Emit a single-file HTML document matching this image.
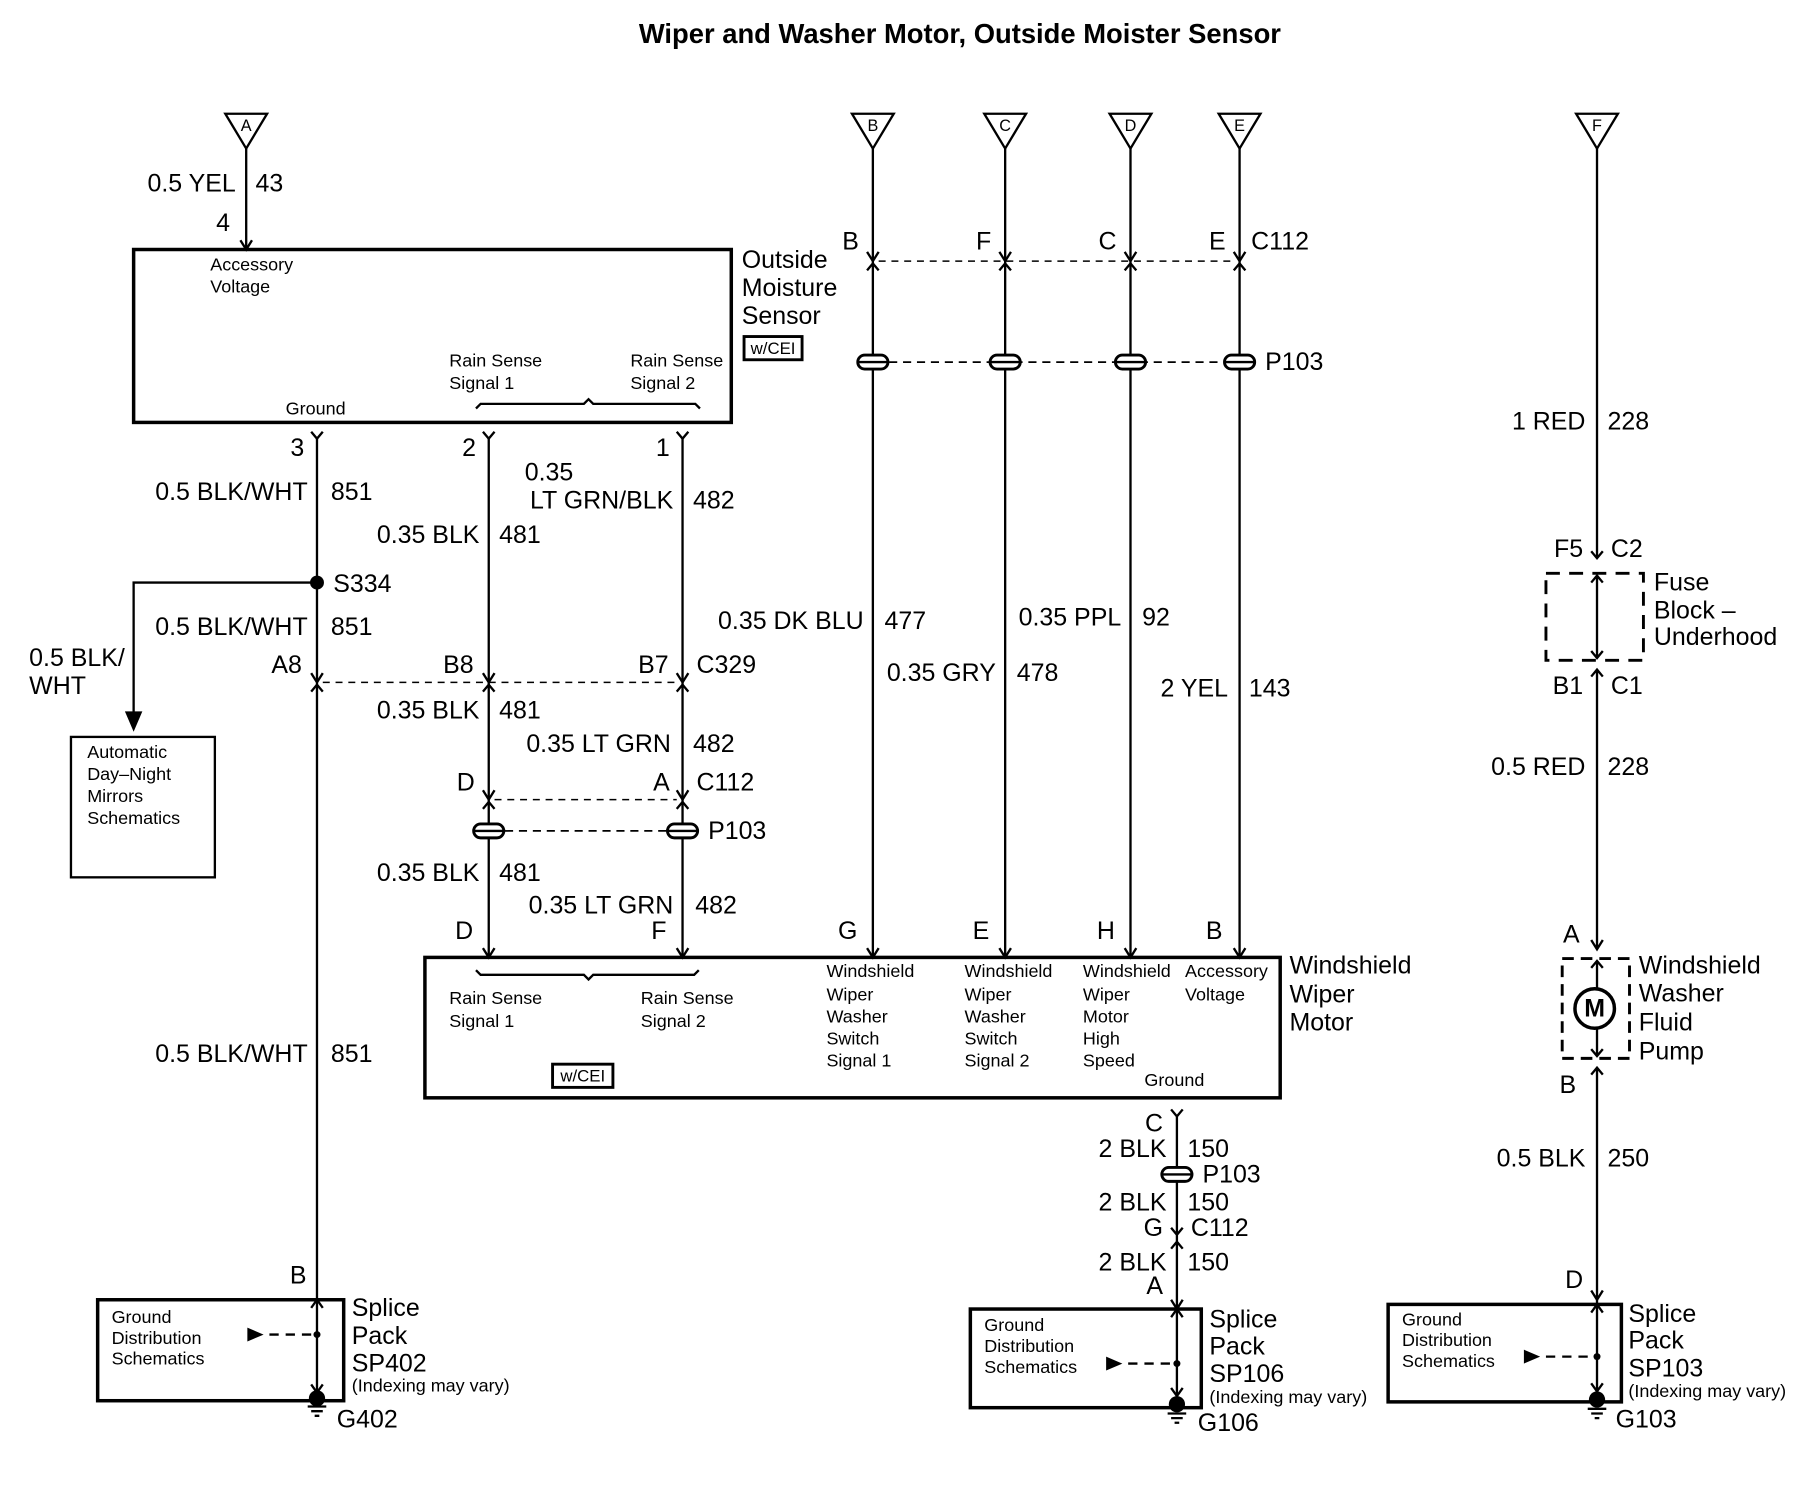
<!DOCTYPE html>
<html><head><meta charset="utf-8"><style>
html,body{margin:0;padding:0;background:#fff}
svg{display:block}
text{font-family:"Liberation Sans",sans-serif;fill:#000}
.l{font-size:21.5px}
.s{font-size:15.5px}
</style></head><body>
<svg width="1820" height="1504" viewBox="0 0 1568 1296" xmlns="http://www.w3.org/2000/svg">
<g stroke="#000" fill="none" stroke-width="2">
<path d="M194,98 L230,98 L212,128 Z M734,98 L770,98 L752,128 Z M848,98 L884,98 L866,128 Z M956,98 L992,98 L974,128 Z M1050,98 L1086,98 L1068,128 Z M1358,98 L1394,98 L1376,128 Z"/>
<path d="M212,128 V215 M207,207 L212,215 L217,207"/>
<rect x="115" y="215" width="515" height="149" stroke-width="3"/>
<rect x="641" y="290" width="50" height="20" stroke-width="2.5"/>
<path d="M410,352 L414,348 H503 L507,344 L511,348 H599 L603,352"/>
<path d="M268,372 L273,378 L278,372 M416,372 L421,378 L426,372 M583,372 L588,378 L593,372"/>
<path d="M273,378 V1200 M421,378 V825 M588,378 V825"/>
<path d="M273,502 H115 V624"/>
<path d="M109,614 L115,628 L121,614 Z" fill="#000"/>
<rect x="61" y="635" width="124" height="121"/>
<path d="M268,580 L273,588 L278,580 M268,596 L273,590 L278,596 M416,580 L421,588 L426,580 M416,596 L421,590 L426,596 M583,580 L588,588 L593,580 M583,596 L588,590 L593,596"/>
<path d="M278,588 H583" stroke-dasharray="6,5" stroke-width="1.3"/>
<path d="M416,681 L421,689 L426,681 M416,697 L421,691 L426,697 M583,681 L588,689 L593,681 M583,697 L588,691 L593,697"/>
<path d="M426,689 H583" stroke-dasharray="6,5" stroke-width="1.3"/>
<path d="M435,716 H575" stroke-dasharray="7,5" stroke-width="1.5"/>
<path d="M416,817 L421,825 L426,817 M583,817 L588,825 L593,817 M747,817 L752,825 L757,817 M861,817 L866,825 L871,817 M969,817 L974,825 L979,817 M1063,817 L1068,825 L1073,817"/>
<rect x="366" y="825" width="737" height="121" stroke-width="3"/>
<rect x="476" y="917" width="52" height="20" stroke-width="2.5"/>
<path d="M410,836 L414,840 H503 L507,844 L511,840 H598 L602,836"/>
<path d="M752,128 V825 M866,128 V825 M974,128 V825 M1068,128 V825"/>
<path d="M747,217 L752,225 L757,217 M747,233 L752,227 L757,233 M861,217 L866,225 L871,217 M861,233 L866,227 L871,233 M969,217 L974,225 L979,217 M969,233 L974,227 L979,233 M1063,217 L1068,225 L1073,217 M1063,233 L1068,227 L1073,233"/>
<path d="M757,225 H1063" stroke-dasharray="6,5" stroke-width="1.3"/>
<path d="M766,312 H1054" stroke-dasharray="7,5" stroke-width="1.5"/>
<path d="M1009,956 L1014,962 L1019,956 M1014,962 V1210 M1009,1058 L1014,1064 L1019,1058 M1009,1076 L1014,1070 L1019,1076 M1009,1120 L1014,1128 L1019,1120"/>
<path d="M1376,128 V481 M1371,475 L1376,481 L1381,475 M1376,496 V567 M1371,502 L1376,496 L1381,502 M1371,561 L1376,567 L1381,561 M1371,583 L1376,577 L1381,583 M1376,577 V818 M1371,810 L1376,818 L1381,810 M1371,834 L1376,828 L1381,834 M1376,828 V910 M1371,904 L1376,910 L1381,904 M1371,926 L1376,920 L1381,926 M1376,920 V1120 M1371,1112 L1376,1120 L1381,1112"/>
<rect x="1332" y="494" width="84" height="75" stroke-dasharray="12,8" stroke-width="2.5"/>
<rect x="1346" y="826" width="58" height="86" stroke-dasharray="10,6" stroke-width="2.5"/>
<circle cx="1374" cy="869" r="17" stroke-width="3" fill="#fff"/>
<rect x="84" y="1120" width="212" height="87" stroke-width="3"/>
<rect x="836" y="1128" width="199" height="85" stroke-width="3"/>
<rect x="1196" y="1124" width="201" height="84" stroke-width="3"/>
<path d="M268,1127 L273,1120 L278,1127 M268,1193 L273,1200 L278,1193 M1009,1135 L1014,1128 L1019,1135 M1009,1196 L1014,1203 L1019,1196 M1376,1120 V1206 M1371,1131 L1376,1124 L1381,1131 M1371,1192 L1376,1199 L1381,1192"/>
<path d="M232,1150 H270 M972,1175 H1011 M1332,1169 H1373" stroke-dasharray="8,6"/>
<path d="M265,1212 H281 M268,1216 H278 M271,1220 H275 M1006,1218 H1022 M1009,1222 H1019 M1012,1226 H1016 M1368,1214 H1384 M1371,1218 H1381 M1374,1222 H1378"/>
</g>
<g fill="#000" stroke="none">
<circle cx="273" cy="502" r="6"/>
<path d="M213,1144 L227,1150 L213,1156 Z M953,1169 L967,1175 L953,1181 Z M1313,1163 L1327,1169 L1313,1175 Z"/>
<circle cx="273" cy="1150" r="3"/><circle cx="1014" cy="1175" r="3"/><circle cx="1376" cy="1169" r="3"/>
<circle cx="273" cy="1205" r="7"/><circle cx="1014" cy="1210" r="7"/><circle cx="1376" cy="1206" r="7"/>
</g>
<g stroke="#000" stroke-width="2.5" fill="#fff">
<rect x="739" y="306" width="26" height="12" rx="6"/><rect x="853" y="306" width="26" height="12" rx="6"/><rect x="961" y="306" width="26" height="12" rx="6"/><rect x="1055" y="306" width="26" height="12" rx="6"/>
<rect x="408" y="710" width="26" height="12" rx="6"/><rect x="575" y="710" width="26" height="12" rx="6"/>
<rect x="1001" y="1006" width="26" height="12" rx="6"/>
</g>
<g stroke="#000" stroke-width="2">
<path d="M739,312 H765 M853,312 H879 M961,312 H987 M1055,312 H1081 M408,716 H434 M575,716 H601 M1001,1012 H1027"/>
</g>
<text x="827" y="37" text-anchor="middle" style="font-size:23.6px;font-weight:bold">Wiper and Washer Motor, Outside Moister Sensor</text>
<g text-anchor="middle" style="font-size:14px">
<text x="212" y="113">A</text><text x="752" y="113">B</text><text x="866" y="113">C</text><text x="974" y="113">D</text><text x="1068" y="113">E</text><text x="1376" y="113">F</text>
</g>
<g class="l">
<text x="203" y="165" text-anchor="end">0.5 YEL</text><text x="220" y="165">43</text>
<text x="198" y="199" text-anchor="end">4</text>
<text x="639" y="231">Outside</text><text x="639" y="255">Moisture</text><text x="639" y="279">Sensor</text>
<text x="262" y="393" text-anchor="end">3</text><text x="410" y="393" text-anchor="end">2</text><text x="577" y="393" text-anchor="end">1</text>
<text x="265" y="431" text-anchor="end">0.5 BLK/WHT</text><text x="285" y="431">851</text>
<text x="452" y="414">0.35</text><text x="580" y="438" text-anchor="end">LT GRN/BLK</text><text x="597" y="438">482</text>
<text x="413" y="468" text-anchor="end">0.35 BLK</text><text x="430" y="468">481</text>
<text x="287" y="510">S334</text>
<text x="265" y="547" text-anchor="end">0.5 BLK/WHT</text><text x="285" y="547">851</text>
<text x="25" y="574">0.5 BLK/</text><text x="25" y="598">WHT</text>
<text x="260" y="580" text-anchor="end">A8</text><text x="408" y="580" text-anchor="end">B8</text><text x="576" y="580" text-anchor="end">B7</text><text x="600" y="580">C329</text>
<text x="413" y="619" text-anchor="end">0.35 BLK</text><text x="430" y="619">481</text>
<text x="578" y="648" text-anchor="end">0.35 LT GRN</text><text x="597" y="648">482</text>
<text x="409" y="681" text-anchor="end">D</text><text x="577" y="681" text-anchor="end">A</text><text x="600" y="681">C112</text>
<text x="610" y="723">P103</text>
<text x="413" y="759" text-anchor="end">0.35 BLK</text><text x="430" y="759">481</text>
<text x="580" y="787" text-anchor="end">0.35 LT GRN</text><text x="599" y="787">482</text>
<text x="392" y="809">D</text><text x="561" y="809">F</text><text x="722" y="809">G</text><text x="838" y="809">E</text><text x="945" y="809">H</text><text x="1039" y="809">B</text>
<text x="740" y="215" text-anchor="end">B</text><text x="854" y="215" text-anchor="end">F</text><text x="962" y="215" text-anchor="end">C</text><text x="1056" y="215" text-anchor="end">E</text><text x="1078" y="215">C112</text>
<text x="1090" y="319">P103</text>
<text x="744" y="542" text-anchor="end">0.35 DK BLU</text><text x="762" y="542">477</text>
<text x="858" y="587" text-anchor="end">0.35 GRY</text><text x="876" y="587">478</text>
<text x="966" y="539" text-anchor="end">0.35 PPL</text><text x="984" y="539">92</text>
<text x="1058" y="600" text-anchor="end">2 YEL</text><text x="1076" y="600">143</text>
<text x="1111" y="839">Windshield</text><text x="1111" y="864">Wiper</text><text x="1111" y="888">Motor</text>
<text x="265" y="915" text-anchor="end">0.5 BLK/WHT</text><text x="285" y="915">851</text>
<text x="1002" y="975" text-anchor="end">C</text>
<text x="1005" y="997" text-anchor="end">2 BLK</text><text x="1023" y="997">150</text>
<text x="1036" y="1019">P103</text>
<text x="1005" y="1043" text-anchor="end">2 BLK</text><text x="1023" y="1043">150</text>
<text x="1002" y="1065" text-anchor="end">G</text><text x="1026" y="1065">C112</text>
<text x="1005" y="1095" text-anchor="end">2 BLK</text><text x="1023" y="1095">150</text>
<text x="1002" y="1115" text-anchor="end">A</text>
<text x="264" y="1106" text-anchor="end">B</text>
<text x="303" y="1134">Splice</text><text x="303" y="1158">Pack</text><text x="303" y="1182">SP402</text><text x="290" y="1230">G402</text>
<text x="1042" y="1144">Splice</text><text x="1042" y="1167">Pack</text><text x="1042" y="1191">SP106</text><text x="1032" y="1233">G106</text>
<text x="1364" y="1110" text-anchor="end">D</text>
<text x="1403" y="1139">Splice</text><text x="1403" y="1162">Pack</text><text x="1403" y="1186">SP103</text><text x="1392" y="1230">G103</text>
<text x="1366" y="370" text-anchor="end">1 RED</text><text x="1385" y="370">228</text>
<text x="1364" y="480" text-anchor="end">F5</text><text x="1388" y="480">C2</text>
<text x="1425" y="509">Fuse</text><text x="1425" y="533">Block –</text><text x="1425" y="556">Underhood</text>
<text x="1364" y="598" text-anchor="end">B1</text><text x="1388" y="598">C1</text>
<text x="1366" y="668" text-anchor="end">0.5 RED</text><text x="1385" y="668">228</text>
<text x="1361" y="812" text-anchor="end">A</text>
<text x="1412" y="839">Windshield</text><text x="1412" y="863">Washer</text><text x="1412" y="888">Fluid</text><text x="1412" y="913">Pump</text>
<text x="1358" y="942" text-anchor="end">B</text>
<text x="1366" y="1005" text-anchor="end">0.5 BLK</text><text x="1385" y="1005">250</text>
<text x="1374" y="876" text-anchor="middle" style="font-weight:bold">M</text>
</g>
<g class="s">
<text x="181" y="233">Accessory</text><text x="181" y="252">Voltage</text>
<text x="387" y="316">Rain Sense</text><text x="387" y="335">Signal 1</text>
<text x="543" y="316">Rain Sense</text><text x="543" y="335">Signal 2</text>
<text x="246" y="357">Ground</text>
<text x="666" y="305" text-anchor="middle" style="font-size:14.5px">w/CEI</text>
<text x="75" y="653">Automatic</text><text x="75" y="672">Day–Night</text><text x="75" y="691">Mirrors</text><text x="75" y="710">Schematics</text>
<text x="387" y="865">Rain Sense</text><text x="387" y="885">Signal 1</text>
<text x="552" y="865">Rain Sense</text><text x="552" y="885">Signal 2</text>
<text x="502" y="932" text-anchor="middle" style="font-size:14.5px">w/CEI</text>
<text x="712" y="842">Windshield</text><text x="712" y="862">Wiper</text><text x="712" y="881">Washer</text><text x="712" y="900">Switch</text><text x="712" y="919">Signal 1</text>
<text x="831" y="842">Windshield</text><text x="831" y="862">Wiper</text><text x="831" y="881">Washer</text><text x="831" y="900">Switch</text><text x="831" y="919">Signal 2</text>
<text x="933" y="842">Windshield</text><text x="933" y="862">Wiper</text><text x="933" y="881">Motor</text><text x="933" y="900">High</text><text x="933" y="919">Speed</text>
<text x="1021" y="842">Accessory</text><text x="1021" y="862">Voltage</text>
<text x="986" y="936">Ground</text>
<text x="96" y="1140">Ground</text><text x="96" y="1158">Distribution</text><text x="96" y="1176">Schematics</text>
<text x="303" y="1199">(Indexing may vary)</text>
<text x="848" y="1147">Ground</text><text x="848" y="1165">Distribution</text><text x="848" y="1183">Schematics</text>
<text x="1042" y="1209">(Indexing may vary)</text>
<text x="1208" y="1142">Ground</text><text x="1208" y="1160">Distribution</text><text x="1208" y="1178">Schematics</text>
<text x="1403" y="1204">(Indexing may vary)</text>
</g>
</svg>
</body></html>
